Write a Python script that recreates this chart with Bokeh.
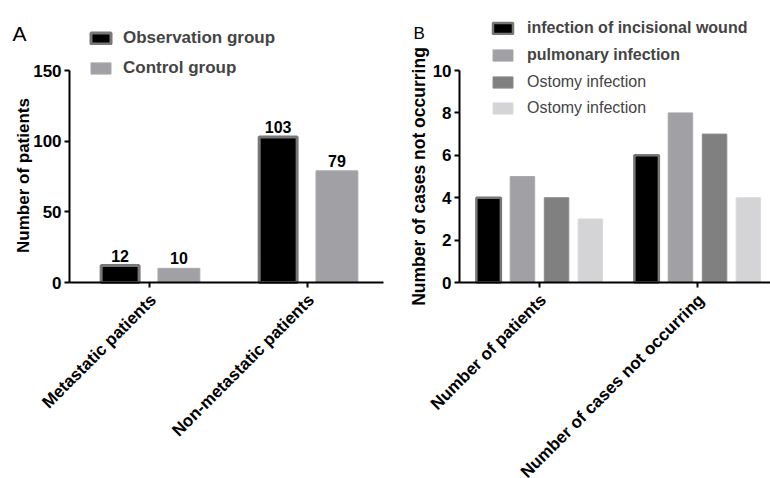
import math
import numpy as np
from bokeh.plotting import figure
from bokeh.models import (Range1d, FixedTicker, Legend, LegendItem, LabelSet,
                          Label, ColumnDataSource)
from bokeh.core.properties import value
from bokeh.layouts import row
from bokeh.embed import file_html
from bokeh.resources import INLINE

# ---------------- data ----------------
cats_a = ["Metastatic patients", "Non-metastatic patients"]
observation = [12, 103]
control = [10, 79]
ticks_a = [0, 50, 100, 150]

cats_b = ["Number of patients", "Number of cases not occurring"]
incisional = [4, 6]
pulmonary = [5, 8]
ostomy_1 = [4, 7]
ostomy_2 = [3, 4]
ticks_b = [0, 2, 4, 6, 8, 10]

FONT = "Liberation Sans"
BLACK_EDGE = "#777777"
H = 478


def make_fig(width, x_range, y_range, y_top, x_end, cats, yticks):
    p = figure(width=width, height=H, x_range=x_range, y_range=y_range,
               output_backend="svg", toolbar_location=None,
               min_border_left=0, min_border_right=0, min_border_top=0, min_border_bottom=0)
    p.grid.visible = False
    p.outline_line_color = None
    p.xaxis.fixed_location = 0
    p.xaxis.bounds = (x_range.start + 0.437, x_end)
    p.yaxis.fixed_location = x_range.start + 0.437
    p.yaxis.bounds = (0, y_top)
    p.yaxis.ticker = FixedTicker(ticks=yticks)
    p.xaxis.ticker = FixedTicker(ticks=list(range(len(cats))))
    p.xaxis.major_label_overrides = {i: "" for i in range(len(cats))}
    for ax in (p.xaxis, p.yaxis):
        ax.minor_tick_line_color = None
        ax.axis_line_width = 2
        ax.axis_line_color = "black"
        ax.major_tick_line_width = 2
        ax.major_tick_line_color = "black"
        ax.major_tick_out = 5
        ax.major_tick_in = 0
        ax.major_label_text_font = FONT
        ax.major_label_text_font_style = "bold"
        ax.major_label_text_font_size = "17px"
        ax.major_label_text_color = "black"
    p.yaxis.major_label_standoff = 3
    # category labels, rotated 45 degrees and ending at their tick
    src = ColumnDataSource(dict(x=list(range(len(cats))), y=[0] * len(cats), t=cats))
    p.add_layout(LabelSet(x="x", y="y", text="t", source=src, angle=math.pi / 4,
                          text_align="right", text_baseline="top", x_offset=-3, y_offset=-8,
                          text_font=value(FONT), text_font_style="bold",
                          text_font_size="17px", text_color="black"))
    return p


def text_label(p, x, y, text, size, style="bold", angle=0.0, align="center",
               baseline="middle"):
    p.add_layout(Label(x=x, y=y, x_units="screen", y_units="screen", text=text,
                       angle=angle, text_align=align, text_baseline=baseline,
                       text_font=FONT, text_font_style=style, text_font_size=size,
                       text_color="black"))


# ---------------- panel A ----------------
pa = make_fig(390, Range1d(-0.943, 1.525), Range1d(-138.68, 199.53), 150, 1.481,
              cats_a, ticks_a)

xa = np.arange(len(cats_a))
off_a = 0.186
ra1 = pa.vbar(x=xa - off_a, top=observation, width=0.24, bottom=0,
              fill_color="black", line_color=BLACK_EDGE, line_width=3)
ra2 = pa.vbar(x=xa + off_a, top=control, width=0.265, bottom=0,
              fill_color="#a1a1a5", line_color="#a8a8ac", line_width=1)

vsrc = ColumnDataSource(dict(x=list(xa - off_a) + list(xa + off_a),
                             y=observation + control,
                             t=[str(v) for v in observation + control]))
pa.add_layout(LabelSet(x="x", y="y", text="t", source=vsrc, text_align="center",
                       text_baseline="alphabetic", y_offset=4, text_font=value(FONT),
                       text_font_style="bold", text_font_size="16px", text_color="black"))

leg_a = Legend(items=[LegendItem(label="Observation group", renderers=[ra1]),
                      LegendItem(label="Control group", renderers=[ra2])],
               location=(88, 400), glyph_width=25, glyph_height=14, label_standoff=10,
               spacing=10, padding=0, margin=0, border_line_color=None,
               background_fill_alpha=0, label_text_font=FONT,
               label_text_font_style="bold", label_text_font_size="17px")
pa.add_layout(leg_a)
text_label(pa, 12, H - 33, "A", "21px", style="normal", align="left", baseline="alphabetic")
text_label(pa, 23, H - 175, "Number of patients", "17px", angle=math.pi / 2)

# ---------------- panel B ----------------
pb = make_fig(380, Range1d(-0.943, 1.462), Range1d(-9.245, 13.302), 10, 1.462,
              cats_b, ticks_b)

xb = np.arange(len(cats_b))
w_b = 0.155
rb1 = pb.vbar(x=xb - 0.322, top=incisional, width=w_b, bottom=0,
              fill_color="black", line_color=BLACK_EDGE, line_width=2.5)
rb2 = pb.vbar(x=xb - 0.108, top=pulmonary, width=w_b, bottom=0,
              fill_color="#a1a1a5", line_color="#a8a8ac", line_width=1)
rb3 = pb.vbar(x=xb + 0.108, top=ostomy_1, width=w_b, bottom=0,
              fill_color="#808080", line_color="#8a8a8a", line_width=1)
rb4 = pb.vbar(x=xb + 0.322, top=ostomy_2, width=w_b, bottom=0,
              fill_color="#d4d4d6", line_color="#dadadc", line_width=1)

leg_b1 = Legend(items=[LegendItem(label="infection of incisional wound", renderers=[rb1]),
                       LegendItem(label="pulmonary infection", renderers=[rb2])],
                location=(100, 414), glyph_width=25, glyph_height=14, label_standoff=12,
                spacing=9, padding=0, margin=0, border_line_color=None,
                background_fill_alpha=0, label_text_font=FONT,
                label_text_font_style="bold", label_text_font_size="16px")
leg_b2 = Legend(items=[LegendItem(label="Ostomy infection", renderers=[rb3]),
                       LegendItem(label="Ostomy infection", renderers=[rb4])],
                location=(100, 361), glyph_width=25, glyph_height=14, label_standoff=12,
                spacing=8, padding=0, margin=0, border_line_color=None,
                background_fill_alpha=0, label_text_font=FONT,
                label_text_font_style="normal", label_text_font_size="16px")
pb.add_layout(leg_b1)
pb.add_layout(leg_b2)
text_label(pb, 23, H - 33, "B", "17px", style="normal", align="left", baseline="alphabetic")
text_label(pb, 28, H - 176, "Number of cases not occurring", "17.5px", angle=math.pi / 2)

layout = row(pa, pb)
open("out.html", "w").write(file_html(layout, INLINE))
